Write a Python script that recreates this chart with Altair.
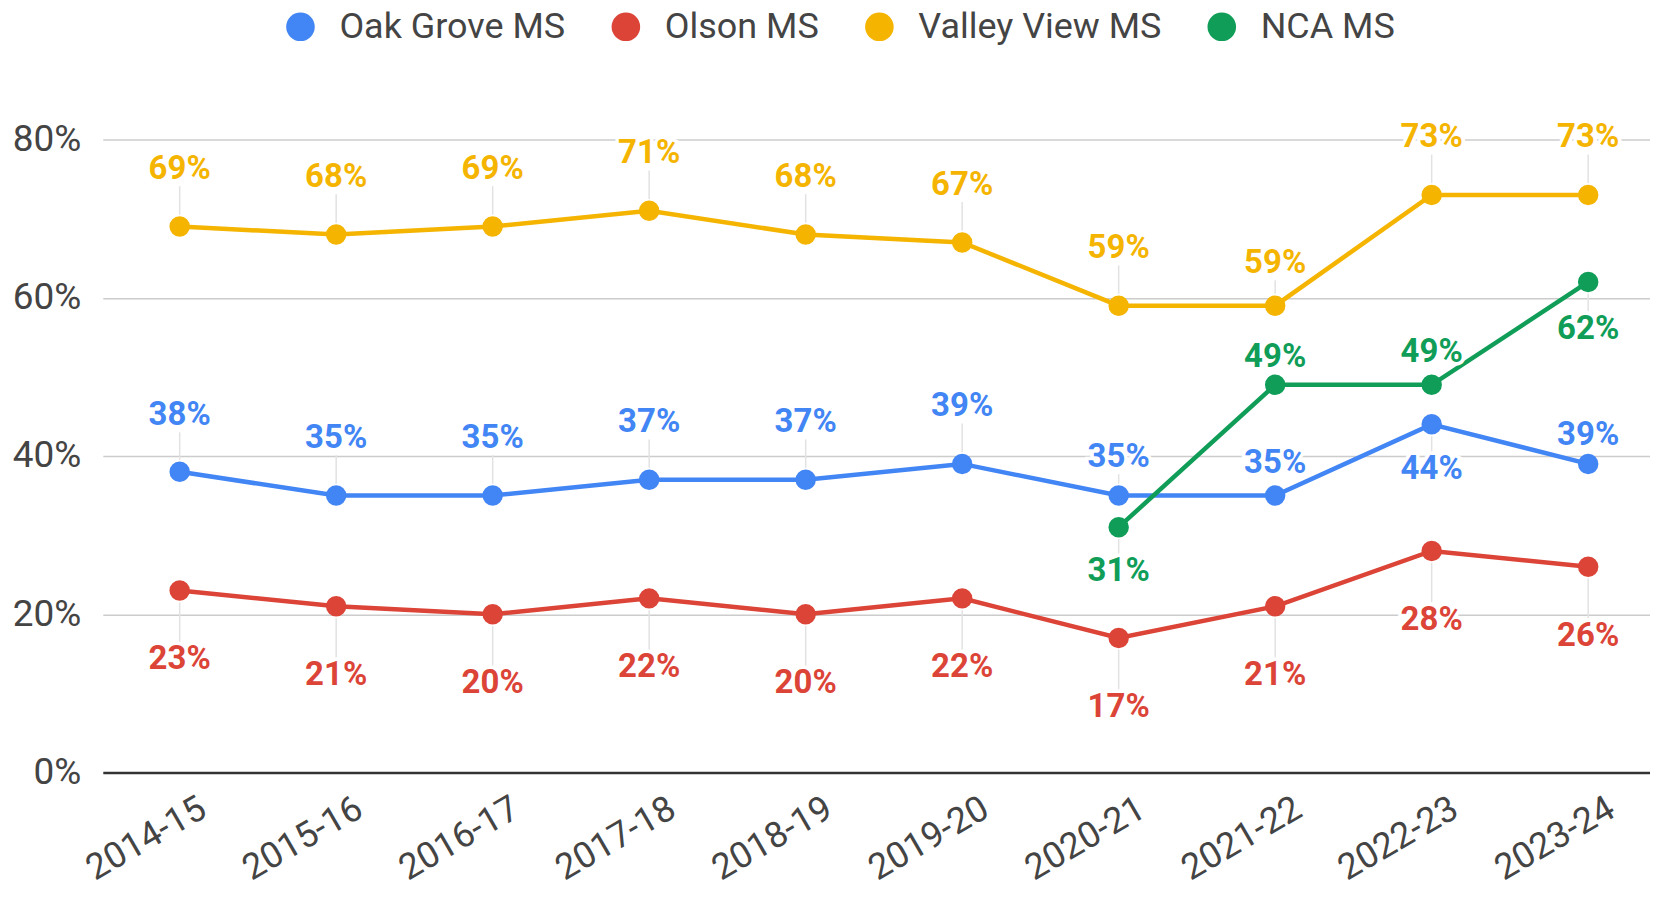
import altair as alt
import pandas as pd

seasons = ["2014-15", "2015-16", "2016-17", "2017-18", "2018-19",
           "2019-20", "2020-21", "2021-22", "2022-23", "2023-24"]
series_names = ["Oak Grove MS", "Olson MS", "Valley View MS", "NCA MS"]
series_colors = ["#4285F4", "#DB4437", "#F4B400", "#0F9D58"]

oak_grove = [38, 35, 35, 37, 37, 39, 35, 35, 44, 39]
olson = [23, 21, 20, 22, 20, 22, 17, 21, 28, 26]
valley_view = [69, 68, 69, 71, 68, 67, 59, 59, 73, 73]
nca = [None, None, None, None, None, None, 31, 49, 49, 62]

# label placement (percentage points above (+) / below (-) each point)
oak_grove_off = [7.2, 7.3, 7.3, 7.3, 7.3, 7.3, 4.9, 4.1, -5.6, 3.7]
olson_off = [-8.7] * 10
valley_view_off = [7.3, 7.3, 7.3, 7.3, 7.3, 7.3, 7.3, 5.4, 7.3, 7.3]
nca_off = [0, 0, 0, 0, 0, 0, -5.6, 3.5, 4.1, -5.9]

rows = []
for name, vals, offs in zip(series_names,
                            [oak_grove, olson, valley_view, nca],
                            [oak_grove_off, olson_off, valley_view_off, nca_off]):
    for i, (v, o) in enumerate(zip(vals, offs)):
        if v is None:
            continue
        sign = 1 if o > 0 else -1
        rows.append(dict(series=name, idx=i, season=seasons[i], value=v,
                         label=f"{v}%", label_y=v + o,
                         lead1=v + sign * 1.5, lead2=v + o - sign * 2.2,
                         lead=abs(o) > 4.5))
df = pd.DataFrame(rows)

label_js = "[" + ",".join(f"'{s}'" for s in seasons) + "]"

x_axis = alt.Axis(values=list(range(len(seasons))), labelExpr=f"{label_js}[datum.value]",
                  title=None, grid=False, ticks=False, labelAngle=330,
                  labelAlign="right", labelBaseline="middle", labelOffset=23,
                  labelPadding=33, labelFontSize=36, labelFont="Roboto",
                  labelColor="#444444", domainColor="#333333", domainWidth=2.5,
                  labelFlush=False, labelOverlap=False)
x_scale = alt.Scale(domain=[-0.491, 9.395], nice=False, zero=False)
y_axis = alt.Axis(values=[0, 20, 40, 60, 80], labelExpr="datum.value + '%'",
                  title=None, grid=True, gridColor="#cccccc", gridWidth=1.5,
                  ticks=False, domain=False, labelFontSize=37, labelFont="Roboto",
                  labelColor="#444444", labelPadding=22)
y_scale = alt.Scale(domain=[0, 80], nice=False, zero=True)
color_scale = alt.Scale(domain=series_names, range=series_colors)

base = alt.Chart(df)

leaders = base.transform_filter("datum.lead").mark_rule(
    color="#e2e2e2", strokeWidth=1.5).encode(
    x=alt.X("idx:Q", scale=x_scale, axis=x_axis),
    y=alt.Y("lead1:Q", scale=y_scale, axis=y_axis),
    y2="lead2:Q",
)

lines = base.mark_line(strokeWidth=4.5).encode(
    x=alt.X("idx:Q", scale=x_scale, axis=x_axis),
    y=alt.Y("value:Q", scale=y_scale, axis=y_axis),
    stroke=alt.Stroke("series:N", scale=color_scale, legend=None),
)

points = base.mark_circle(size=420, opacity=1).encode(
    x=alt.X("idx:Q", scale=x_scale, axis=x_axis),
    y=alt.Y("value:Q", scale=y_scale, axis=y_axis),
    color=alt.Color("series:N", scale=color_scale,
                    legend=alt.Legend(title=None, orient="none", direction="horizontal",
                                      legendX=180, legendY=-131,
                                      symbolType="circle", symbolSize=820,
                                      symbolOpacity=1, symbolStrokeWidth=0,
                                      labelFontSize=36, labelFont="Roboto",
                                      labelColor="#444444", labelOffset=21,
                                      labelLimit=0, columnPadding=42, padding=0)),
)

halo = base.mark_text(font="Roboto", fontSize=33, fontWeight="bold",
                      fill="white", stroke="white", strokeWidth=7,
                      baseline="middle", align="center").encode(
    x=alt.X("idx:Q", scale=x_scale, axis=x_axis),
    y=alt.Y("label_y:Q", scale=y_scale, axis=y_axis),
    text="label:N",
)

labels = base.mark_text(font="Roboto", fontSize=33, fontWeight="bold",
                        baseline="middle", align="center").encode(
    x=alt.X("idx:Q", scale=x_scale, axis=x_axis),
    y=alt.Y("label_y:Q", scale=y_scale, axis=y_axis),
    text="label:N",
    fill=alt.Fill("series:N", scale=color_scale, legend=None),
)

chart = alt.layer(leaders, lines, points, halo, labels).resolve_legend(
    stroke="independent", fill="independent"
).properties(
    width=1550, height=634,
    autosize=alt.AutoSizeParams(type="none"),
    padding={"left": 95, "top": 131, "right": 0, "bottom": 119},
    background="white",
).configure_view(stroke=None)

chart.save("out.html", embed_options={"renderer": "svg", "actions": False})
